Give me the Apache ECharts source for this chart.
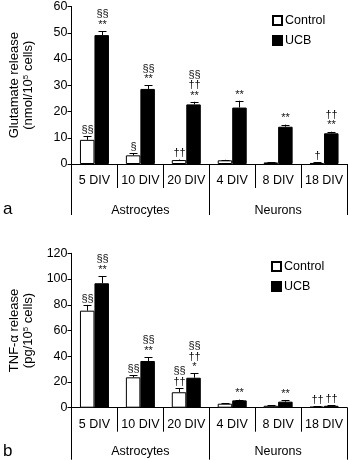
<!DOCTYPE html>
<html><head><meta charset="utf-8">
<script src="https://cdn.jsdelivr.net/npm/echarts@6/dist/echarts.min.js"></script>
<style>html,body{margin:0;padding:0;background:#fff}#c{width:348px;height:460px}</style>
</head><body><div id="c"></div>
<script>
const categories = ['5 DIV', '10 DIV', '20 DIV', '4 DIV', '8 DIV', '18 DIV'];
const groups = ['Astrocytes', 'Neurons'];
const glutTicks = [0, 10, 20, 30, 40, 50, 60];
const tnfTicks = [0, 20, 40, 60, 80, 100, 120];

const glutControl = [9.2, 3.3, 1.5, 1.4, 0.6, 0.4];
const glutControlErr = [1.5, 0.8, 0.2, 0.2, 0.1, 0.2];
const glutUCB = [49.1, 28.6, 22.7, 21.5, 14.2, 11.7];
const glutUCBErr = [1.5, 1.4, 1.0, 2.6, 0.8, 0.6];
const glutControlMarks = ['§§', '§', '††', '', '', '†'];
const glutUCBMarks = ['§§\n**', '§§\n**', '§§\n††\n**', '**', '**', '††\n**'];

const tnfControl = [75.4, 23.6, 12.0, 3.1, 1.5, 0.8];
const tnfControlErr = [4.5, 1.5, 3.2, 0.3, 0.5, 0.3];
const tnfUCB = [96.7, 36.3, 23.3, 5.7, 4.7, 1.5];
const tnfUCBErr = [5.5, 3.0, 3.4, 0.6, 1.3, 0.5];
const tnfControlMarks = ['§§', '§§', '§§\n††', '', '', '††'];
const tnfUCBMarks = ['§§\n**', '§§\n**', '§§\n††\n*', '**', '**', '††'];

const FONT = 'Liberation Sans, Arial, Helvetica, sans-serif';
const BARW = 14.5;

const chart = echarts.init(document.getElementById('c'), null, {renderer: 'canvas'});

function errSeries(name, gridIdx, xIdx, yIdx, vals, errs, marks, side) {
  return {
    name: name, type: 'custom', xAxisIndex: xIdx, yAxisIndex: yIdx, z: 5,
    data: vals.map((v, i) => [i, v]),
    renderItem: function (params, api) {
      const i = params.dataIndex;
      const base = api.coord([i, vals[i]]);
      const top = api.coord([i, vals[i] + errs[i]]);
      const x = Math.round(base[0] + side * BARW / 2) + 0.5;
      const children = [
        {type: 'line', shape: {x1: x, y1: base[1], x2: x, y2: top[1]}, style: {stroke: '#000', lineWidth: 1}},
        {type: 'line', shape: {x1: x - 4, y1: Math.round(top[1]) + 0.5, x2: x + 4, y2: Math.round(top[1]) + 0.5}, style: {stroke: '#000', lineWidth: 1}}
      ];
      if (marks[i]) {
        children.push({type: 'text', style: {text: marks[i], x: x, y: top[1] - 1, align: 'center', verticalAlign: 'bottom',
          font: '11px ' + FONT, lineHeight: 10.5, fill: '#111'}});
      }
      return {type: 'group', children: children};
    }
  };
}

function yName(line1, pre, post) {
  return '{t|' + line1 + '}\n{t|' + pre + '}{s|5}{t|' + post + '}';
}
const richName = {t: {fontSize: 13, fontFamily: FONT, color: '#000', lineHeight: 14}, s: {fontSize: 8, fontFamily: FONT, color: '#000', verticalAlign: 'top', lineHeight: 14, padding: [0, 0, 4, 0]}};

function xAxes(gridIdx, grpMargin, grpTick) {
  return [
    {type: 'category', gridIndex: gridIdx, data: categories, boundaryGap: true,
      axisLine: {lineStyle: {color: '#000', width: 1}},
      axisTick: {show: true, length: 24, interval: 0, lineStyle: {color: '#000'}},
      axisLabel: {color: '#000', fontSize: 12.5, fontFamily: FONT, margin: 10, interval: 0}},
    {type: 'category', gridIndex: gridIdx, data: groups, boundaryGap: true, position: 'bottom',
      axisLine: {show: false},
      axisTick: {show: true, length: grpTick, interval: 0, lineStyle: {color: '#000'}},
      axisLabel: {color: '#000', fontSize: 12.5, fontFamily: FONT, margin: grpMargin, interval: 0}}
  ];
}

function yAxis(gridIdx, max, interval, name) {
  return {type: 'value', gridIndex: gridIdx, min: 0, max: max, interval: interval,
    splitLine: {show: false},
    axisLine: {show: true, lineStyle: {color: '#000'}},
    axisTick: {show: true, length: 4, lineStyle: {color: '#000'}},
    axisLabel: {color: '#000', fontSize: 12.5, fontFamily: FONT, margin: 4},
    name: name, nameLocation: 'middle', nameGap: 36, nameTextStyle: {rich: richName}};
}

const legendCommon = {orient: 'vertical', itemWidth: 9, itemHeight: 9, itemGap: 7, icon: 'rect',
  textStyle: {fontSize: 12.5, fontFamily: FONT, color: '#000', padding: [0, 0, 0, -2]}, selectedMode: false,
  data: ['Control', 'UCB']};

chart.setOption({
  animation: false,
  backgroundColor: '#fff',
  grid: [
    {left: 60, top: 4.5, width: 287, height: 159.5, containLabel: false},
    {left: 60, top: 253.3, width: 287, height: 154.4, containLabel: false}
  ],
  legend: [
    Object.assign({left: 267, top: 9}, legendCommon),
    Object.assign({left: 266, top: 255}, legendCommon)
  ],
  xAxis: xAxes(0, 40, 51).concat(xAxes(1, 37, 52)),
  yAxis: [
    yAxis(0, glutTicks[glutTicks.length - 1], glutTicks[1] - glutTicks[0], yName('Glutamate release', '(nmol/10', ' cells)')),
    yAxis(1, tnfTicks[tnfTicks.length - 1], tnfTicks[1] - tnfTicks[0], yName('TNF-α release', '(pg/10', ' cells)'))
  ],
  series: [
    {name: 'Control', type: 'bar', xAxisIndex: 0, yAxisIndex: 0, data: glutControl, barWidth: BARW, barGap: '0%',
      itemStyle: {color: '#fff', borderColor: '#000', borderWidth: 1}},
    {name: 'UCB', type: 'bar', xAxisIndex: 0, yAxisIndex: 0, data: glutUCB, barWidth: BARW, barGap: '0%',
      itemStyle: {color: '#000', borderColor: '#000', borderWidth: 1}},
    {name: 'Control', type: 'bar', xAxisIndex: 2, yAxisIndex: 1, data: tnfControl, barWidth: BARW, barGap: '0%',
      itemStyle: {color: '#fff', borderColor: '#000', borderWidth: 1}},
    {name: 'UCB', type: 'bar', xAxisIndex: 2, yAxisIndex: 1, data: tnfUCB, barWidth: BARW, barGap: '0%',
      itemStyle: {color: '#000', borderColor: '#000', borderWidth: 1}},
    errSeries('errA1', 0, 0, 0, glutControl, glutControlErr, glutControlMarks, -1),
    errSeries('errA2', 0, 0, 0, glutUCB, glutUCBErr, glutUCBMarks, 1),
    errSeries('errB1', 1, 2, 1, tnfControl, tnfControlErr, tnfControlMarks, -1),
    errSeries('errB2', 1, 2, 1, tnfUCB, tnfUCBErr, tnfUCBMarks, 1)
  ],
  graphic: [
    {type: 'text', left: 3, top: 201, style: {text: 'a', font: '17px ' + FONT, fill: '#000'}},
    {type: 'text', left: 3, top: 443, style: {text: 'b', font: '17px ' + FONT, fill: '#000'}}
  ]
});
</script>
</body></html>
